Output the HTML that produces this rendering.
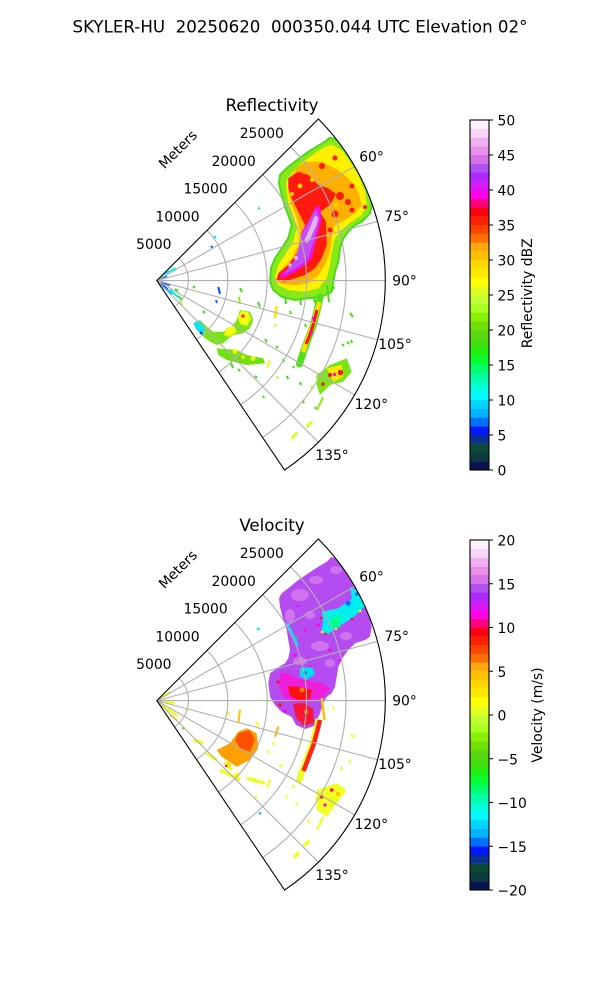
<!DOCTYPE html>
<html><head><meta charset="utf-8">
<style>
html,body{margin:0;padding:0;background:#fff;}
svg{display:block;}
text{font-family:"DejaVu Sans","Liberation Sans",sans-serif;fill:#000;}
</style></head>
<body>
<svg width="600" height="1000" viewBox="0 0 600 1000" xmlns="http://www.w3.org/2000/svg">
<defs>
<clipPath id="wedge"><path d="M156.8,280.6 L318.37,119.03 A228.5,228.5 0 0 1 284.58,470.03 Z"/></clipPath>
</defs>
<rect width="600" height="1000" fill="#fff"/>

<text x="300" y="32.7" font-size="16.67" text-anchor="middle" xml:space="preserve" style="white-space:pre">SKYLER-HU  20250620  000350.044 UTC Elevation 02°</text>

<!-- ================= REFLECTIVITY ================= -->
<g>
<text x="272" y="111" font-size="16.67" text-anchor="middle">Reflectivity</text>
<g clip-path="url(#wedge)">
 <!-- main storm -->
 <polygon fill="#8ae81a" stroke="#48dc18" stroke-width="2" stroke-linejoin="round" points="330,137.7 338.3,140 346.7,146.7 355,158.3 361.7,171.7 368.3,188.3 371.7,205 370,213.3 361.7,221.7 355,225 348.3,231.7 343.3,238.3 340,248.3 338.3,261.7 335,271.7 333.3,281.7 331.7,291.7 321.7,296.7 308.3,298.3 295,300 281.7,296.7 273.3,290 270,281.7 271,268.3 275,258.3 281.7,248.3 288.3,238.3 291.7,225 288.3,215 285,206.7 281.7,195 279,183.3 280,175 286.7,168.3 295,161.7 301.7,156.7 308.3,151.7 316.7,146.7 325,141.7"/>
 <g stroke="#48dc18" stroke-width="2">
  <line x1="285" y1="296" x2="286" y2="304"/><line x1="300" y1="298" x2="301" y2="305"/><line x1="327" y1="285" x2="329" y2="302"/><line x1="314" y1="297" x2="315" y2="303"/>
 </g>
 <polygon fill="#fff000" points="331.7,145 341.7,150 350,161.7 358.3,175 365,191.7 366.7,205 361.7,215 351.7,221.7 343.3,228.3 335,238.3 331.7,251.7 330,265 326.7,278.3 318.3,288.3 305,291.7 288.3,290 278.3,285 275,276.7 278.3,265 285,255 293.3,241.7 296.7,228.3 293.3,215 288.3,203.3 286.7,191.7 286.7,180 293.3,171.7 303.3,161.7 315,153.3 325,146.7"/>
 <polygon fill="#ffb000" points="305,161.7 321.7,161.7 335,168.3 348.3,178.3 358.3,191.7 361.7,205 355,213.3 345,220 335,225 331.7,238.3 330,251.7 325,265 318.3,275 308.3,283.3 295,285 281.7,284.3 275,280 280,271.7 291.7,258.3 298.3,245 300,231.7 296.7,218.3 291.7,205 288.3,191.7 290,178.3 296.7,168.3"/>
 <polygon fill="#ff1a10" points="288.3,178.3 298.3,171.7 308.3,175 318.3,185 328.3,188.3 336,194 330,205 320,212 326,222 326.7,245 321.7,258.3 315,268.3 305,275 295,278.3 285,281.7 276.7,280 278.3,273.3 288.3,265 298.3,251.7 301.7,238.3 305,225 298.3,211.7 291.7,198.3 288.3,188.3"/>
 <g fill="#ff1a10">
  <circle cx="335" cy="158" r="2.5"/><circle cx="365" cy="207" r="2"/><circle cx="322" cy="166" r="3"/><circle cx="352" cy="186" r="2.5"/>
  <circle cx="340" cy="196" r="4"/><circle cx="348" cy="202" r="3"/><circle cx="335" cy="214" r="3.5"/><circle cx="352" cy="210" r="2.5"/><circle cx="330" cy="230" r="2.5"/>
 </g>
 <g fill="#ffd000">
  <circle cx="300" cy="186" r="2.5"/><circle cx="336" cy="205" r="2.5"/><circle cx="292" cy="194" r="2"/><circle cx="312" cy="180" r="2"/>
 </g>
 <polygon fill="#f010ec" points="316.7,205 320,208.3 321.7,218.3 318.3,231.7 315,245 311.7,258.3 305,265 295,271.7 285,276.7 280,278.3 281.7,273.3 290,266.7 295,258.3 300,245 301.7,231.7 308.3,221.7 313.3,211.7"/>
 <polygon fill="#c050f0" points="316,209 319.5,218 316.5,231 313,244 309,256 302,264 292,270 285,274 288,268 295,260 299,247 302,234 308,223 313,213"/>
 <polygon fill="#e8b0f0" points="315,215 318.3,218.3 316.7,225 313.3,231.7 310,240 306.7,243.3 304.3,240 308.3,231.7 311.7,223.3"/>
 <circle cx="296" cy="258" r="2" fill="#e8b0f0"/><circle cx="290" cy="265" r="1.8" fill="#e8b0f0"/>

 <!-- near origin -->
 <g stroke-width="2">
  <line x1="158" y1="281" x2="170" y2="285" stroke="#0050ff"/>
  <line x1="160" y1="283" x2="168" y2="290" stroke="#0018ff"/>
  <line x1="162" y1="286" x2="172" y2="294" stroke="#00c0ff"/>
  <line x1="170" y1="290" x2="178" y2="297" stroke="#00e8ff"/>
  <line x1="178" y1="296" x2="182" y2="300" stroke="#20f010"/>
  <line x1="158" y1="279" x2="167" y2="276" stroke="#0070ff"/>
  <line x1="162" y1="275" x2="170" y2="271" stroke="#00d8ff"/>
  <line x1="170" y1="271" x2="176" y2="268" stroke="#00ffd8"/>
  <line x1="175" y1="289" x2="178" y2="291" stroke="#40e010"/>
  <line x1="180" y1="302" x2="183" y2="305" stroke="#c0ff30"/>
 </g>

 <!-- blob A -->
 <polygon fill="#7ae418" points="240,310 250,311.7 253.3,320 250,328.3 243.3,333.3 233.3,335 226.7,340 223.3,343.3 216.7,345 210,341.7 203.3,336.7 196.7,330 193.3,323.3 200,320 206.7,326.7 213.3,331.7 223.3,331.7 231.7,326.7 236.7,320"/>
 <polygon fill="#00e8f0" points="193.3,323.3 199,320.5 205,326.7 203.3,335 196.7,330"/>
 <polygon fill="#f4ff10" points="241,311 248,312 251,319 247,326 240,324 238,317"/>
 <polygon fill="#f4ff10" points="226,328 234,326 237,332 229,337 224,335"/>
 <circle cx="243" cy="316" r="1.8" fill="#ff3010"/>
 <!-- band B -->
 <polygon fill="#70e010" points="216.7,348.3 236.7,350 246.7,355 263.3,358.3 265,363.3 246.7,365 226.7,360 218.3,355"/>
 <circle cx="235" cy="351.5" r="2.5" fill="#ffff00"/><circle cx="253" cy="358.5" r="2.5" fill="#e8ff20"/><circle cx="243" cy="357" r="2" fill="#ffe800"/>

 <!-- red line -->
 <path d="M320,297 L317,311 L313.5,325 L308.5,338 L303.5,351.5 L299.5,364" stroke="#50e020" stroke-width="7" fill="none" stroke-linecap="round"/>
 <path d="M319.5,302 L316.5,312 L313,325 L308,338 L303,352" stroke="#ffe000" stroke-width="4.5" fill="none"/>
 <path d="M317,310 L313.5,324 L309.5,336 L306,344" stroke="#ff1010" stroke-width="3" fill="none"/>
 <circle cx="313.3" cy="318.3" r="1.5" fill="#ff00e8"/><circle cx="311.3" cy="332.5" r="1.5" fill="#ff00e8"/>

 <!-- cluster C -->
 <polygon fill="#7ae418" points="316.7,375 330,365 346.7,358.3 351.7,371.7 343.3,381.7 330,385 320,395 316.7,385"/>
 <polygon fill="#ffe800" points="326.7,368.3 341.7,365 343.3,376.7 333.3,381.7"/>
 <circle cx="340.5" cy="372.5" r="2.6" fill="#ff1010"/><circle cx="330" cy="375" r="2" fill="#ff1010"/><circle cx="334.5" cy="374.5" r="1.6" fill="#ff00e8"/>
 <circle cx="323" cy="384" r="1.8" fill="#ff1010"/>

 <!-- scattered -->
 <g stroke-width="2" stroke="#40e010">
  <line x1="193" y1="286" x2="195" y2="288"/>
  <line x1="218.3" y1="287" x2="220" y2="294" stroke="#0050ff"/>
  <line x1="216" y1="300" x2="217" y2="303" stroke="#0070ff"/>
  <line x1="239" y1="297" x2="240" y2="304" stroke="#88f000"/>
  <line x1="240" y1="288" x2="242" y2="292"/>
  <line x1="258" y1="302" x2="260" y2="307"/>
  <line x1="203" y1="311" x2="205" y2="313"/>
  <line x1="200" y1="332" x2="202" y2="334" stroke="#0018ff"/>
  <line x1="265" y1="339" x2="267" y2="342"/>
  <line x1="275" y1="324" x2="276" y2="327" stroke="#c0ff30"/>
  <line x1="276.5" y1="306" x2="275" y2="318" stroke="#ffe800" stroke-width="2.5"/>
  <line x1="290" y1="311" x2="291" y2="314"/>
  <line x1="305" y1="324" x2="306" y2="327"/>
  <line x1="333" y1="286" x2="334" y2="289"/>
  <line x1="350" y1="313" x2="353" y2="317"/>
  <line x1="351" y1="340" x2="352" y2="343"/>
  <line x1="342" y1="344" x2="344" y2="346"/>
  <line x1="347" y1="342" x2="349" y2="344"/>
  <line x1="276" y1="346" x2="278" y2="348"/>
  <line x1="283" y1="359" x2="284" y2="362"/>
  <line x1="293" y1="366" x2="294" y2="368"/>
  <line x1="270" y1="360" x2="267" y2="368" stroke="#e0ff20"/>
  <line x1="255" y1="376" x2="257" y2="378"/>
  <line x1="277" y1="376" x2="278" y2="379" stroke="#c0ff30"/>
  <line x1="287" y1="376" x2="288" y2="379"/>
  <line x1="300" y1="382" x2="301" y2="385"/>
  <line x1="263" y1="396" x2="264" y2="398"/>
  <line x1="303" y1="401" x2="304" y2="403"/>
  <line x1="311" y1="386" x2="312" y2="389" stroke="#c0ff30"/>
  <line x1="316" y1="376" x2="317" y2="379" stroke="#c0ff30"/>
  <line x1="297" y1="432.5" x2="291.5" y2="438.5" stroke="#d8ff20" stroke-width="3"/>
  <line x1="312" y1="421.5" x2="306.5" y2="427" stroke="#d8ff20" stroke-width="3"/>
  <line x1="323" y1="397" x2="317" y2="410" stroke="#88f000"/>
  <line x1="315" y1="407" x2="316" y2="409"/>
  <line x1="258" y1="207.5" x2="260" y2="209" stroke="#00ffb0"/>
  <line x1="214" y1="236" x2="216" y2="238" stroke="#00e8ff"/>
  <line x1="211" y1="246" x2="212.5" y2="247.5" stroke="#0050ff"/>
  <line x1="238" y1="369" x2="240" y2="371"/>
  <line x1="231" y1="363" x2="233" y2="368"/>
 </g>
</g>
<!-- grid -->
<path fill="none" stroke="#b0b0b0" stroke-width="1.1" d="M179.14,258.26 A31.6,31.6 0 0 1 174.47,306.80 M207.00,230.40 A71,71 0 0 1 196.50,339.46 M234.86,202.54 A110.4,110.4 0 0 1 218.54,372.12 M262.72,174.68 A149.8,149.8 0 0 1 240.57,404.78 M290.58,146.82 A189.2,189.2 0 0 1 262.60,437.45 M156.8,280.6 L354.69,166.35 M156.8,280.6 L377.51,221.46 M156.8,280.6 L385.3,280.6 M156.8,280.6 L377.51,339.74 M156.8,280.6 L354.69,394.85 M156.8,280.6 L318.37,442.17"/>
<path fill="none" stroke="#000" stroke-width="1.1" d="M156.8,280.6 L318.37,119.03 A228.5,228.5 0 0 1 284.58,470.03 Z"/>
<g font-size="13.9">
 <g text-anchor="end">
  <text x="171.5" y="248.8">5000</text>
  <text x="199.6" y="221.7">10000</text>
  <text x="227.7" y="193.7">15000</text>
  <text x="255.8" y="166">20000</text>
  <text x="283.9" y="138">25000</text>
 </g>
 <text transform="translate(177.7,149.2) rotate(-45)" x="0" y="5" text-anchor="middle">Meters</text>
 <g text-anchor="middle">
  <text x="371.5" y="161.7">60°</text>
  <text x="396.7" y="221">75°</text>
  <text x="404.5" y="285.5">90°</text>
  <text x="395" y="349">105°</text>
  <text x="371.3" y="409">120°</text>
  <text x="332" y="460">135°</text>
 </g>
</g>
</g>

<!-- ================= VELOCITY ================= -->
<text x="272" y="531" font-size="16.67" text-anchor="middle">Velocity</text>
<g transform="translate(0,420)">
<g clip-path="url(#wedge)">
 <polygon fill="#b44cf2" points="331.7,136.7 338.3,140 346.7,150 355,166.7 361.7,181.7 368.3,193.3 371.7,206.7 370,216.7 365,220 355,223.3 348.3,230 343.3,236.7 338.3,246.7 336.7,256.7 335,266.7 331.7,273.3 326.7,276.7 323.3,283.3 320,293.3 314,306 305,309 296,305 291.7,297 281.7,292 275,285 270,276.7 268.3,263.3 270,253.3 276.7,248.3 285,243.3 288.3,238.3 290,230 288.3,220 286.7,210 283.3,200 280,186.7 279,178.3 281.7,173.3 288.3,168.3 298.3,160 308.3,153.3 318.3,146.7 326.7,141.7"/>
 <g fill="#d880ec" opacity="0.75">
  <ellipse cx="300" cy="175" rx="9" ry="6"/><ellipse cx="316" cy="160" rx="7" ry="4"/><ellipse cx="290" cy="196" rx="5" ry="7"/>
  <ellipse cx="336" cy="150" rx="6" ry="4"/><ellipse cx="320" cy="226" rx="9" ry="5"/><ellipse cx="300" cy="241" rx="7" ry="4"/>
  <ellipse cx="346" cy="216" rx="6" ry="4"/><ellipse cx="330" cy="243" rx="5" ry="4"/><ellipse cx="310" cy="195" rx="5" ry="4"/>
 </g>
 <g fill="#ff00e8">
  <circle cx="318" cy="205" r="1.6"/><circle cx="305" cy="210" r="1.4"/><circle cx="330" cy="230" r="1.6"/><circle cx="295" cy="235" r="1.5"/>
  <circle cx="310" cy="246" r="1.5"/><circle cx="284" cy="255" r="1.5"/><circle cx="298" cy="186" r="1.3"/><circle cx="340" cy="240" r="1.4"/>
 </g>
 <!-- cyan region -->
 <polygon fill="#00f0f0" points="321.7,191.7 338.3,188.3 355,176.7 361.7,181.7 361.7,190 351.7,198.3 338.3,206.7 326.7,215 321.7,210 323.3,200"/>
 <polygon fill="#00f0f0" points="350,167 358,171 366,186 360,190 352,180"/>
 <polygon fill="#00ff90" points="330,198.3 341.7,195 340,205 330,208.3"/>
 <circle cx="348.3" cy="183.3" r="2.5" fill="#0070ff"/><circle cx="357" cy="174" r="2" fill="#0070ff"/>
 <g stroke-width="2.5">
  <line x1="287" y1="203" x2="298" y2="226" stroke="#00d8ff"/>
 </g>
 <g fill="#ffff00"><circle cx="322" cy="212" r="1.3"/><circle cx="360" cy="191" r="1.3"/><circle cx="336" cy="209" r="1.2"/></g>
 <g fill="#ff1010"><circle cx="326" cy="214" r="1.3"/><circle cx="352" cy="199" r="1.3"/><circle cx="321" cy="198" r="1.2"/></g>
 <g fill="#00ff30"><circle cx="339" cy="207" r="1.2"/><circle cx="296" cy="218" r="1.2"/></g>
 <polygon fill="#00e0f0" points="300,248 312,247 315,254 306,260 300,256"/>
 <circle cx="305" cy="253" r="2" fill="#0090ff"/>
 <!-- lower magenta / red -->
 <polygon fill="#f818d8" opacity="0.85" points="280,252 290,254 300,259 312,261 322,263 330,268 325,277 310,281 295,283 283,277 279,264"/>
 <polygon fill="#ff1010" points="288,266 300,267 312,270 310,279 298,280 290,276"/>
 <polygon fill="#ff1020" opacity="0.9" points="293,284 305,283 313,289 314,303 304,306 296,298"/>
 <circle cx="302" cy="270" r="2.5" fill="#ff8000"/><circle cx="306" cy="292" r="2" fill="#ff8000"/>
 <circle cx="280" cy="285" r="1.8" fill="#ff1010"/><circle cx="285" cy="291" r="1.8" fill="#ff00e0"/><circle cx="278" cy="262" r="1.6" fill="#ff1010"/>
 <line x1="321.7" y1="278" x2="324.5" y2="300" stroke="#ffc000" stroke-width="2.5"/>
 <!-- red line -->
 <path d="M318.5,299 L315.5,312 L312,325 L307,338 L302,351.5 L298.5,362" stroke="#e8ff20" stroke-width="6" fill="none"/>
 <path d="M320,300 L317,312 L313.5,325 L308.5,338 L303.5,351" stroke="#ff2010" stroke-width="4.5" fill="none"/>
 <!-- blob A -->
 <polygon fill="#ffa000" points="230,323.3 238.3,311.7 246.7,308.3 256.7,313.3 258.3,328.3 250,340 236.7,346.7 221.7,336.7 216.7,330"/>
 <polygon fill="#ff5000" points="238.3,313.3 250,310 255,320 250,331.7 240,328.3 235,320"/>
 <g stroke="#f0ff10" stroke-width="3">
  <line x1="193.3" y1="320" x2="203.3" y2="323.3"/>
  <line x1="206.7" y1="333.3" x2="216.7" y2="340"/>
  <line x1="220" y1="350" x2="240" y2="360"/>
  <line x1="246.7" y1="358.3" x2="265" y2="363.3"/>
  <line x1="224" y1="342" x2="232" y2="350"/>
 </g>
 <circle cx="228" cy="345" r="3" fill="#ffe000"/><circle cx="237" cy="355" r="2.5" fill="#ffff00"/><circle cx="254" cy="360" r="2.5" fill="#e8ff20"/>
 <circle cx="226" cy="346" r="1.2" fill="#ff00e8"/>
 <!-- cluster C -->
 <polygon fill="#f0ff20" points="316.7,370 336.7,363.3 346.7,370 336.7,383.3 326.7,396.7 316.7,390"/>
 <circle cx="321.7" cy="376.7" r="1.8" fill="#ff1010"/><circle cx="331.7" cy="370" r="1.8" fill="#ff1010"/><circle cx="325" cy="385" r="1.6" fill="#ff00e8"/>
 <circle cx="338" cy="374" r="2.2" fill="#ffc000"/>
 <!-- scattered / near origin -->
 <g stroke-width="2" stroke="#f0ff10">
  <line x1="157" y1="281" x2="175" y2="283"/>
  <line x1="158" y1="283" x2="172" y2="292"/>
  <line x1="160" y1="285" x2="178" y2="296"/>
  <line x1="158" y1="279" x2="170" y2="272"/>
  <line x1="170" y1="295" x2="176.7" y2="300" stroke="#ffd000"/>
  <line x1="186" y1="289" x2="188" y2="291"/>
  <line x1="228" y1="292" x2="229" y2="295"/>
  <line x1="240" y1="290" x2="238.3" y2="303.3" stroke="#ffc000"/>
  <line x1="256.7" y1="301.7" x2="258.3" y2="306.7"/>
  <line x1="278.3" y1="306.7" x2="275" y2="316.7" stroke="#ffb000"/>
  <line x1="273" y1="322" x2="274" y2="325"/>
  <line x1="268" y1="330" x2="269" y2="333"/>
  <line x1="333" y1="287" x2="334" y2="290"/>
  <line x1="350" y1="315" x2="355" y2="317"/>
  <line x1="341" y1="347" x2="342" y2="350"/>
  <line x1="349" y1="340" x2="351" y2="343"/>
  <line x1="280" y1="344" x2="281" y2="347"/>
  <line x1="293" y1="365" x2="294" y2="368"/>
  <line x1="286" y1="375" x2="287" y2="378"/>
  <line x1="296" y1="382" x2="297" y2="385"/>
  <line x1="308" y1="400" x2="309" y2="403"/>
  <line x1="309" y1="420.5" x2="304" y2="426" stroke-width="3"/>
  <line x1="299" y1="432" x2="294" y2="438" stroke-width="3"/>
  <line x1="270" y1="360" x2="267" y2="368"/>
  <line x1="255" y1="376" x2="257" y2="378"/>
  <line x1="300" y1="320" x2="301" y2="323"/>
  <line x1="316" y1="377" x2="317" y2="380"/>
  <line x1="323" y1="397" x2="317" y2="410"/>
 </g>
 <circle cx="183.3" cy="308.3" r="1.3" fill="#40e010"/>
 <circle cx="260" cy="393.3" r="1.3" fill="#00c0ff"/>
 <circle cx="258.3" cy="209" r="1.5" fill="#00ffd8"/>
</g>
<path fill="none" stroke="#b0b0b0" stroke-width="1.1" d="M179.14,258.26 A31.6,31.6 0 0 1 174.47,306.80 M207.00,230.40 A71,71 0 0 1 196.50,339.46 M234.86,202.54 A110.4,110.4 0 0 1 218.54,372.12 M262.72,174.68 A149.8,149.8 0 0 1 240.57,404.78 M290.58,146.82 A189.2,189.2 0 0 1 262.60,437.45 M156.8,280.6 L354.69,166.35 M156.8,280.6 L377.51,221.46 M156.8,280.6 L385.3,280.6 M156.8,280.6 L377.51,339.74 M156.8,280.6 L354.69,394.85 M156.8,280.6 L318.37,442.17"/>
<path fill="none" stroke="#000" stroke-width="1.1" d="M156.8,280.6 L318.37,119.03 A228.5,228.5 0 0 1 284.58,470.03 Z"/>
<g font-size="13.9">
 <g text-anchor="end">
  <text x="171.5" y="248.8">5000</text>
  <text x="199.6" y="221.7">10000</text>
  <text x="227.7" y="193.7">15000</text>
  <text x="255.8" y="166">20000</text>
  <text x="283.9" y="138">25000</text>
 </g>
 <text transform="translate(177.7,149.2) rotate(-45)" x="0" y="5" text-anchor="middle">Meters</text>
 <g text-anchor="middle">
  <text x="371.5" y="161.7">60°</text>
  <text x="396.7" y="221">75°</text>
  <text x="404.5" y="285.5">90°</text>
  <text x="395" y="349">105°</text>
  <text x="371.3" y="409">120°</text>
  <text x="332" y="460">135°</text>
 </g>
</g>
</g>

<!-- ================= COLORBARS ================= -->
<g>
<rect x="470" y="461.25" width="19" height="8.9" fill="#0a1450"/>
<rect x="470" y="452.5" width="19" height="8.9" fill="#0b3a3c"/>
<rect x="470" y="443.75" width="19" height="8.9" fill="#0a4a36"/>
<rect x="470" y="435" width="19" height="8.9" fill="#0a3090"/>
<rect x="470" y="426.25" width="19" height="8.9" fill="#0018ff"/>
<rect x="470" y="417.5" width="19" height="8.9" fill="#0070ff"/>
<rect x="470" y="408.75" width="19" height="8.9" fill="#00b4ff"/>
<rect x="470" y="400" width="19" height="8.9" fill="#00d4ff"/>
<rect x="470" y="391.25" width="19" height="8.9" fill="#00f8ff"/>
<rect x="470" y="382.5" width="19" height="8.9" fill="#00ffd8"/>
<rect x="470" y="373.75" width="19" height="8.9" fill="#00ffa8"/>
<rect x="470" y="365" width="19" height="8.9" fill="#00ff70"/>
<rect x="470" y="356.25" width="19" height="8.9" fill="#00ff30"/>
<rect x="470" y="347.5" width="19" height="8.9" fill="#20f010"/>
<rect x="470" y="338.75" width="19" height="8.9" fill="#40e010"/>
<rect x="470" y="330" width="19" height="8.9" fill="#58d810"/>
<rect x="470" y="321.25" width="19" height="8.9" fill="#70e000"/>
<rect x="470" y="312.5" width="19" height="8.9" fill="#88f000"/>
<rect x="470" y="303.75" width="19" height="8.9" fill="#a8ff20"/>
<rect x="470" y="295" width="19" height="8.9" fill="#c0ff30"/>
<rect x="470" y="286.25" width="19" height="8.9" fill="#e0ff20"/>
<rect x="470" y="277.5" width="19" height="8.9" fill="#ffff00"/>
<rect x="470" y="268.75" width="19" height="8.9" fill="#ffe800"/>
<rect x="470" y="260" width="19" height="8.9" fill="#ffd800"/>
<rect x="470" y="251.25" width="19" height="8.9" fill="#ffc000"/>
<rect x="470" y="242.5" width="19" height="8.9" fill="#ffa810"/>
<rect x="470" y="233.75" width="19" height="8.9" fill="#ff7000"/>
<rect x="470" y="225" width="19" height="8.9" fill="#ff4400"/>
<rect x="470" y="216.25" width="19" height="8.9" fill="#ff2000"/>
<rect x="470" y="207.5" width="19" height="8.9" fill="#ff0010"/>
<rect x="470" y="198.75" width="19" height="8.9" fill="#ff0080"/>
<rect x="470" y="190" width="19" height="8.9" fill="#ff00e8"/>
<rect x="470" y="181.25" width="19" height="8.9" fill="#d818f8"/>
<rect x="470" y="172.5" width="19" height="8.9" fill="#b028ff"/>
<rect x="470" y="163.75" width="19" height="8.9" fill="#b050f0"/>
<rect x="470" y="155" width="19" height="8.9" fill="#d870e8"/>
<rect x="470" y="146.25" width="19" height="8.9" fill="#e890e8"/>
<rect x="470" y="137.5" width="19" height="8.9" fill="#f0b0f0"/>
<rect x="470" y="128.75" width="19" height="8.9" fill="#f8d8f8"/>
<rect x="470" y="120" width="19" height="8.75" fill="#fff0ff"/>
<rect x="470" y="120" width="19" height="350" fill="none" stroke="#000" stroke-width="1.1"/>
<path stroke="#000" stroke-width="1.1" d="M489,470 h4 M489,435 h4 M489,400 h4 M489,365 h4 M489,330 h4 M489,295 h4 M489,260 h4 M489,225 h4 M489,190 h4 M489,155 h4 M489,120 h4"/>
<g font-size="13.9">
<text x="497.5" y="475.5">0</text>
<text x="497.5" y="440.5">5</text>
<text x="497.5" y="405.5">10</text>
<text x="497.5" y="370.5">15</text>
<text x="497.5" y="335.5">20</text>
<text x="497.5" y="300.5">25</text>
<text x="497.5" y="265.5">30</text>
<text x="497.5" y="230.5">35</text>
<text x="497.5" y="195.5">40</text>
<text x="497.5" y="160.5">45</text>
<text x="497.5" y="125.5">50</text>
<text transform="translate(531.8,293.3) rotate(-90)" text-anchor="middle">Reflectivity dBZ</text>
</g>
</g>

<g>
<rect x="470" y="881.25" width="19" height="8.9" fill="#0a1450"/>
<rect x="470" y="872.5" width="19" height="8.9" fill="#0b3a3c"/>
<rect x="470" y="863.75" width="19" height="8.9" fill="#0a4a36"/>
<rect x="470" y="855" width="19" height="8.9" fill="#0a3090"/>
<rect x="470" y="846.25" width="19" height="8.9" fill="#0018ff"/>
<rect x="470" y="837.5" width="19" height="8.9" fill="#0070ff"/>
<rect x="470" y="828.75" width="19" height="8.9" fill="#00b4ff"/>
<rect x="470" y="820" width="19" height="8.9" fill="#00d4ff"/>
<rect x="470" y="811.25" width="19" height="8.9" fill="#00f8ff"/>
<rect x="470" y="802.5" width="19" height="8.9" fill="#00ffd8"/>
<rect x="470" y="793.75" width="19" height="8.9" fill="#00ffa8"/>
<rect x="470" y="785" width="19" height="8.9" fill="#00ff70"/>
<rect x="470" y="776.25" width="19" height="8.9" fill="#00ff30"/>
<rect x="470" y="767.5" width="19" height="8.9" fill="#20f010"/>
<rect x="470" y="758.75" width="19" height="8.9" fill="#40e010"/>
<rect x="470" y="750" width="19" height="8.9" fill="#58d810"/>
<rect x="470" y="741.25" width="19" height="8.9" fill="#70e000"/>
<rect x="470" y="732.5" width="19" height="8.9" fill="#88f000"/>
<rect x="470" y="723.75" width="19" height="8.9" fill="#a8ff20"/>
<rect x="470" y="715" width="19" height="8.9" fill="#c0ff30"/>
<rect x="470" y="706.25" width="19" height="8.9" fill="#e0ff20"/>
<rect x="470" y="697.5" width="19" height="8.9" fill="#ffff00"/>
<rect x="470" y="688.75" width="19" height="8.9" fill="#ffe800"/>
<rect x="470" y="680" width="19" height="8.9" fill="#ffd800"/>
<rect x="470" y="671.25" width="19" height="8.9" fill="#ffc000"/>
<rect x="470" y="662.5" width="19" height="8.9" fill="#ffa810"/>
<rect x="470" y="653.75" width="19" height="8.9" fill="#ff7000"/>
<rect x="470" y="645" width="19" height="8.9" fill="#ff4400"/>
<rect x="470" y="636.25" width="19" height="8.9" fill="#ff2000"/>
<rect x="470" y="627.5" width="19" height="8.9" fill="#ff0010"/>
<rect x="470" y="618.75" width="19" height="8.9" fill="#ff0080"/>
<rect x="470" y="610" width="19" height="8.9" fill="#ff00e8"/>
<rect x="470" y="601.25" width="19" height="8.9" fill="#d818f8"/>
<rect x="470" y="592.5" width="19" height="8.9" fill="#b028ff"/>
<rect x="470" y="583.75" width="19" height="8.9" fill="#b050f0"/>
<rect x="470" y="575" width="19" height="8.9" fill="#d870e8"/>
<rect x="470" y="566.25" width="19" height="8.9" fill="#e890e8"/>
<rect x="470" y="557.5" width="19" height="8.9" fill="#f0b0f0"/>
<rect x="470" y="548.75" width="19" height="8.9" fill="#f8d8f8"/>
<rect x="470" y="540" width="19" height="8.75" fill="#fff0ff"/>
<rect x="470" y="540" width="19" height="350" fill="none" stroke="#000" stroke-width="1.1"/>
<path stroke="#000" stroke-width="1.1" d="M489,890 h4 M489,846.25 h4 M489,802.5 h4 M489,758.75 h4 M489,715 h4 M489,671.25 h4 M489,627.5 h4 M489,583.75 h4 M489,540 h4"/>
<g font-size="13.9">
<text x="497.5" y="895.5">−20</text>
<text x="497.5" y="851.75">−15</text>
<text x="497.5" y="808">−10</text>
<text x="497.5" y="764.25">−5</text>
<text x="497.5" y="720.5">0</text>
<text x="497.5" y="676.75">5</text>
<text x="497.5" y="633">10</text>
<text x="497.5" y="589.25">15</text>
<text x="497.5" y="545.5">20</text>
<text transform="translate(541.8,715) rotate(-90)" text-anchor="middle">Velocity (m/s)</text>
</g>
</g>
</svg>
</body></html>
